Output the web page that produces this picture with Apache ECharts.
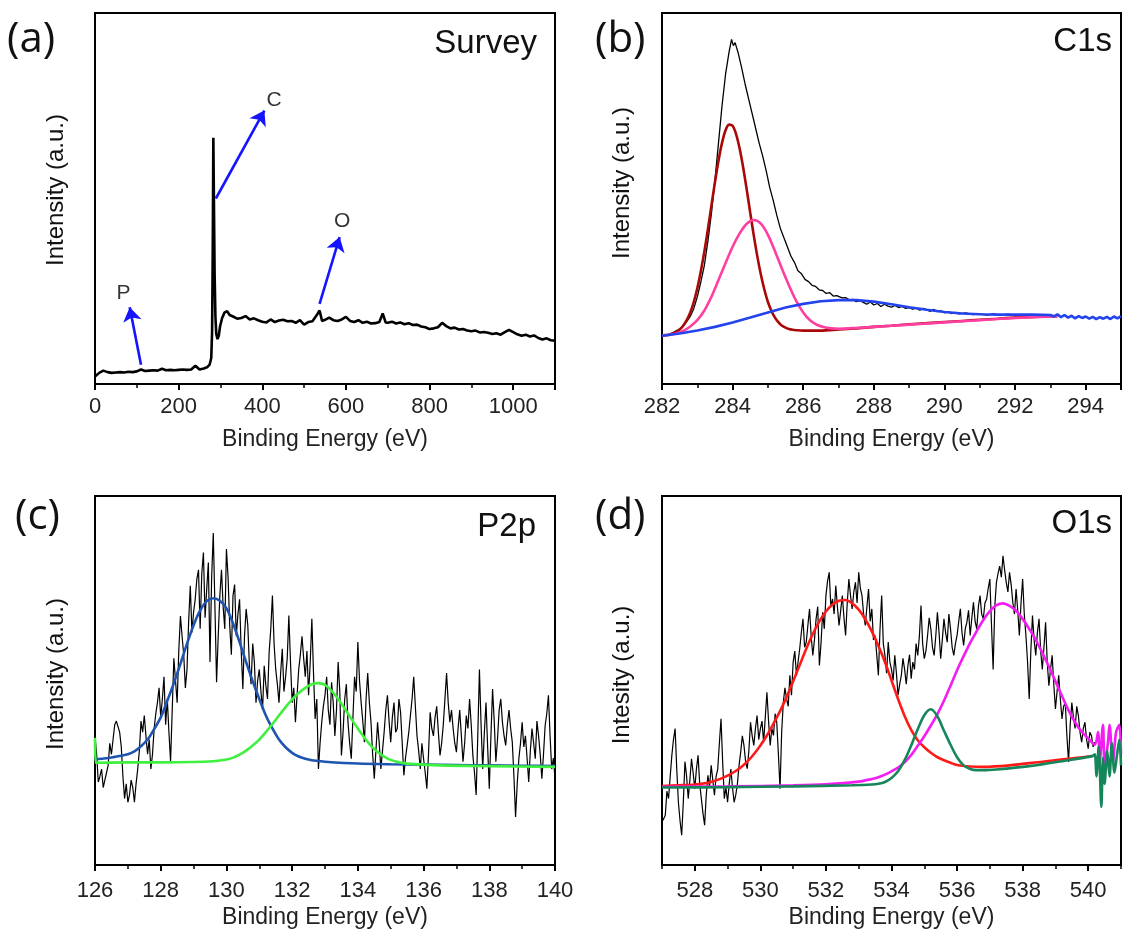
<!DOCTYPE html>
<html><head><meta charset="utf-8">
<script src="https://cdn.jsdelivr.net/npm/echarts@6/dist/echarts.min.js"></script>
<style>html,body{margin:0;padding:0;background:#fff}#c{width:1124px;height:946px}</style>
</head><body><div id="c"></div>
<script>
// ---------- (a) Survey ----------
const surveyData = [
[0,2.0],[10,3.0],[20,3.6],[30,3.2],[40,3.0],[50,3.1],[60,3.2],[70,3.1],[80,3.3],[90,3.2],[100,3.4],[110,3.9],[120,3.5],[130,3.6],[140,3.7],[150,3.6],[160,4.1],[170,3.7],[180,3.8],[190,3.7],[200,3.8],[210,3.9],[220,3.8],[230,3.9],[240,4.9],[250,3.9],[260,4.2],[268,4.5],[274,5.2],[278,7],[280,14],[281.5,35],[283,66.4],[284.5,48],[286,30],[288,18],[290,13.5],[293,12.1],[296,13],[299,15.5],[304,17.8],[310,19.3],[316,19.6],[322,18.6],[330,18.2],[340,17.6],[350,17.8],[360,18.3],[370,17.4],[380,17.7],[390,17.2],[400,16.8],[410,16.6],[420,17.4],[430,16.7],[440,17.1],[450,17.3],[460,16.9],[470,17.0],[480,16.5],[490,17.2],[500,16.0],[510,16.7],[520,16.9],[530,18.5],[537,19.8],[543,17.0],[550,17.3],[560,17.9],[570,17.2],[580,17.0],[590,17.4],[600,18.1],[610,17.0],[620,16.7],[630,17.2],[640,16.5],[650,16.8],[660,16.3],[670,16.4],[680,16.7],[688,19.0],[695,16.6],[700,16.5],[710,16.8],[720,16.3],[730,16.6],[740,16.1],[750,16.4],[760,15.9],[770,16.0],[780,15.5],[790,15.3],[800,14.8],[810,15.0],[820,15.3],[830,16.5],[840,15.6],[850,15.0],[860,15.2],[870,14.7],[880,14.8],[890,14.4],[900,14.2],[910,14.4],[920,13.9],[930,14.0],[940,13.8],[950,13.5],[960,13.7],[970,13.3],[980,14.0],[990,14.6],[1000,14.0],[1010,13.4],[1020,13.0],[1030,13.3],[1040,12.8],[1050,13.1],[1060,12.4],[1070,12.0],[1080,12.3],[1090,11.8],[1100,11.7]
];
const surveyArrows = [
  [[110, 5.2], [83, 20.7]],
  [[289, 50.0], [405, 73.7]],
  [[537, 21.6], [585, 39.6]]
];
const surveyLabels = [
  {name: 'P', value: [68, 24.5]},
  {name: 'C', value: [428, 76.4]},
  {name: 'O', value: [591, 44.0]}
];

// ---------- (b) C1s ----------
const c1sData = [
[282.0,13.0],[282.1,13.1],[282.2,13.4],[282.3,13.8],[282.4,14.3],[282.5,14.8],[282.6,15.6],[282.7,16.8],[282.8,18.2],[282.9,20.3],[283.0,23.5],[283.1,27.5],[283.2,32.0],[283.3,38.5],[283.4,46.0],[283.5,55.0],[283.6,65.0],[283.7,75.0],[283.8,83.5],[283.9,89.5],[283.97,92.9],[284.02,91.2],[284.07,92.0],[284.15,89.5],[284.25,85.5],[284.35,81.0],[284.45,77.0],[284.55,73.0],[284.65,69.0],[284.75,65.0],[284.85,61.5],[284.95,57.5],[285.05,53.0],[285.15,49.5],[285.25,45.5],[285.35,42.0],[285.45,39.5],[285.55,37.0],[285.65,34.5],[285.75,32.8],[285.85,30.5],[285.95,29.7],[286.05,28.2],[286.15,27.6],[286.25,26.6],[286.35,26.3],[286.45,25.4],[286.55,25.2],[286.65,24.4],[286.75,24.6],[286.85,23.7],[286.95,23.8],[287.1,23.2],[287.2,23.3],[287.3,22.7],[287.4,22.8],[287.5,22.2],[287.6,22.5],[287.7,22.0],[287.8,21.5],[287.9,22.1],[288.0,21.3],[288.1,21.7],[288.2,20.9],[288.3,21.5],[288.4,21.0],[288.5,20.7],[288.6,21.2],[288.7,20.6],[288.8,20.9],[288.9,20.4],[289.0,20.6],[289.1,20.2],[289.2,20.5],[289.3,19.9],[289.4,20.4],[289.5,20.0],[289.6,19.6],[289.7,20.1],[289.8,19.5],[289.9,19.7],[290.0,19.2],[290.1,19.5],[290.2,19.0],[290.3,19.3],[290.4,18.9],[290.6,19.2],[290.8,18.7],[291.0,18.9],[291.2,18.6],[291.4,18.9],[291.6,18.5],[291.8,18.8],[292.0,18.4],[292.2,18.7],[292.4,18.3],[292.6,18.6],[292.8,18.2],[293.0,18.4]
];
const c1sRed = [
[282.0,13.1],[282.1,13.2],[282.2,13.3],[282.3,13.6],[282.4,14.0],[282.5,14.7],[282.6,15.7],[282.7,17.2],[282.8,19.3],[282.9,22.1],[283.0,25.8],[283.1,30.4],[283.2,35.7],[283.3,41.7],[283.4,48.1],[283.5,54.4],[283.6,60.2],[283.7,65.0],[283.8,68.4],[283.9,69.9],[284.0,69.6],[284.1,67.3],[284.2,63.4],[284.3,58.3],[284.4,52.4],[284.5,46.1],[284.6,40.0],[284.7,34.4],[284.8,29.5],[284.9,25.4],[285.0,22.1],[285.1,19.7],[285.2,17.9],[285.3,16.6],[285.4,15.7],[285.5,15.2],[285.6,14.8],[285.7,14.6],[285.8,14.5],[286.0,14.4],[286.5,14.4],[287.0,14.7],[287.5,15.0],[288.0,15.4],[288.5,15.7],[289.0,16.1],[289.5,16.4],[290.0,16.7],[290.5,17.0],[291.0,17.3],[291.5,17.6],[292.0,17.9],[292.5,18.1],[293.2,18.3]
];
const c1sPink = [
[282.0,13.0],[282.2,13.2],[282.4,13.6],[282.6,14.3],[282.8,15.5],[283.0,17.2],[283.2,19.8],[283.4,23.5],[283.6,28.0],[283.8,32.6],[284.0,37.0],[284.2,40.6],[284.4,43.2],[284.6,44.2],[284.8,43.2],[285.0,40.2],[285.2,35.8],[285.4,31.0],[285.6,26.5],[285.8,22.4],[286.0,19.3],[286.2,17.1],[286.4,15.9],[286.6,15.3],[286.8,15.0],[287.0,14.9],[287.5,15.1],[288.0,15.4],[289.0,16.0],[290.0,16.6],[291.0,17.2],[292.0,17.8],[293.2,18.3]
];
const c1sBlue = [
[282.0,13.0],[282.5,13.6],[283.0,14.4],[283.5,15.4],[284.0,16.6],[284.5,17.9],[285.0,19.3],[285.5,20.6],[286.0,21.6],[286.5,22.3],[287.0,22.6],[287.5,22.6],[288.0,22.2],[288.5,21.5],[289.0,20.7],[289.5,20.0],[290.0,19.4],[290.5,19.0],[291.0,18.8],[291.5,18.7],[292.0,18.7],[292.5,18.7],[293.0,18.6],[293.1,18.2],[293.2,18.8],[293.3,18.0],[293.4,18.6],[293.5,17.9],[293.6,18.4],[293.7,17.7],[293.8,18.3],[293.9,17.8],[294.0,18.2],[294.1,17.6],[294.2,18.1],[294.3,17.5],[294.4,18.0],[294.5,17.6],[294.6,18.1],[294.7,17.5],[294.8,18.2],[294.9,17.7],[295.0,18.3]
];

// ---------- (c) P2p ----------
const p2pStart = 126.0, p2pStep = 0.05;
const p2pCounts = [
35,30,22.5,24,26,21,23,25,27,33,30,34,38,39,37.5,36,32,24,18,22,
17,19,23,21,17,22,26,31,39,36,40.5,35,30,34,26,30,37,41,44,48,
40,45,51,38,45,36,28,42,56,50,44,58,67.5,62,57,48,53,66,75.7,63,
68.5,72,77.5,80,64,79,84.7,67,74.8,82,55,78,90,70,49.5,62,73,80,70,64,
85.6,78,65,57,73,76,62,68,72,58,47.7,62,69.4,65,54,49,60,55,44,50,
53,47,42,54,48.6,45,57.7,64,73,60,53,49,44,52,58.6,47,51,56,67.6,55,
44,48,38.7,46,53,57,62,56,51,58,46,55,66.7,52,39.6,45,26,33,38.7,43,
46,51,42,38,49.5,44,35,42,55,47,29.7,36,45,49,38.7,33,28.8,40,51,47,
60.4,50,44,39,33.3,45,52,44,38.7,30,23.4,31,38.7,33,26,31,36,42,46,39,
33.3,40,44,36,37,45,41.4,33,24.3,29,32.4,36,40.5,45,51,43,35,31,26,33,
28.8,25,20.7,30,41.4,37,35,40,43,36,29.7,33,38,45,52,44,38.7,42,37,33,
30.6,37,42,35,28,33,40.5,37,45,38,29.7,25,19,35,53,38,26,36,44,32,
20.7,35,47.7,39,28,34,42,45,38.7,35,32.4,38,42,37,33.3,24,13,22,28.8,33,
38.7,32,35,29,22.5,31,37,33,28.8,39,35,30,23.4,30,37.8,41,46,35,26,29,
23.4
];
const p2pBlue = [
[126.0,28.6],[126.2,28.8],[126.4,29.0],[126.6,29.3],[126.8,29.6],[127.0,30.0],[127.2,30.8],[127.4,32.2],[127.6,34.0],[127.8,36.8],[128.0,40.0],[128.2,44.5],[128.4,49.3],[128.6,54.5],[128.8,60.0],[129.0,65.0],[129.2,69.0],[129.4,71.5],[129.6,72.3],[129.8,71.6],[130.0,69.6],[130.2,65.5],[130.4,60.4],[130.6,55.0],[130.8,49.8],[131.0,45.0],[131.2,40.5],[131.4,37.0],[131.6,34.0],[131.8,31.9],[132.0,30.4],[132.2,29.4],[132.4,28.8],[132.6,28.4],[132.8,28.2],[133.0,28.0],[134.0,27.5],[135.0,27.3],[136.0,27.2],[137.0,27.1],[138.0,27.0],[139.0,26.9],[140.0,26.8]
];
const p2pGreen = [
[126.0,34.5],[126.02,27.7],[127.0,27.8],[128.0,27.8],[129.0,27.9],[129.6,28.1],[129.8,28.3],[130.0,28.6],[130.2,29.1],[130.4,29.9],[130.6,31.0],[130.8,32.4],[131.0,34.0],[131.2,36.0],[131.4,38.2],[131.6,40.5],[131.8,42.8],[132.0,44.9],[132.2,46.6],[132.4,48.0],[132.6,49.0],[132.8,49.3],[133.0,48.8],[133.2,47.2],[133.4,45.0],[133.6,42.4],[133.8,39.6],[134.0,37.0],[134.2,34.5],[134.4,32.3],[134.6,30.6],[134.8,29.4],[135.0,28.5],[135.2,28.0],[135.4,27.6],[135.6,27.4],[136.5,27.0],[138.0,26.8],[140.0,26.6]
];

// ---------- (d) O1s ----------
const o1sStart = 527.0, o1sStep = 0.05;
const o1sCounts = [
11.7,12.5,13.5,20,18,24,29.7,34,37,26,17,12,8.1,17,28,24,18,23,28.8,25,
20.7,26,29.7,22,18,14,10.8,19,24.3,21,27,23,18.9,24,26,33,39.6,28,18,21,
17,22,26,21,17,19,22,27,30.6,35,32.4,28,26.1,31,38.7,35,32.4,37,40.5,34,
36.9,39,33.3,40,46.8,39,32.4,37,35.1,41,38.7,30,20.7,36,44.1,48,45,43,51.4,46,
55,58,51.4,55,58.6,63,66.7,59,60.4,65,69.4,62,56.8,61,66.7,70,54.1,60,68.5,64,
73,77,79.3,70,72.1,68,75.7,70,64.9,69,73,67,62.2,71,77.5,73,69.4,74,76.6,71,
79.3,75,73,68,64.9,70,74.8,66,69.4,61,62.2,57,51.4,64,73,60,56.8,52,60.4,55,
53,50,56.8,52,46,49,51.4,56,53,49,54,57,50.5,55,53,60,56.8,62,70.3,60,
55.9,58,62.2,67,64,59,56.8,62,68.5,63,55.9,61,66.7,63,60.4,68,64,59,56.8,60,
62.2,66,69.4,63,59.5,64,65.8,69,62.2,67,71.2,66,64,70,73,68,66.7,71,72,75,
77.5,65,53,70,76.6,79,81,78,83.8,80,76.6,74,79.3,76,71.2,68,74.8,69,62.2,71,
77.5,68,62.2,55,45,58,67.6,61,56.8,63,66.7,58,53,59,65.8,55,48.6,53,56.8,49,
42.3,47,51.4,45,39.6,43,44,35,27.9,38,44,40,37,43,40.5,36,33.3,37,38.7,34,
31.5,36,35,32,33.3
];
const o1sRed = [
[527.0,21.4],[527.5,21.6],[528.0,21.8],[528.4,22.3],[528.6,22.8],[528.8,23.4],[529.0,24.2],[529.2,25.2],[529.4,26.4],[529.6,28.0],[529.8,30.0],[530.0,32.4],[530.2,35.1],[530.4,38.3],[530.6,41.7],[530.8,45.5],[531.0,49.8],[531.2,54.2],[531.4,58.6],[531.6,62.6],[531.8,66.0],[532.0,68.7],[532.2,70.6],[532.4,71.6],[532.6,71.8],[532.8,70.9],[533.0,69.2],[533.2,66.6],[533.4,63.3],[533.6,59.4],[533.8,55.0],[534.0,50.0],[534.2,45.0],[534.4,40.4],[534.6,36.6],[534.8,33.8],[535.0,31.9],[535.2,30.4],[535.4,29.2],[535.6,28.4],[535.8,27.7],[536.0,27.1],[536.4,26.7],[536.8,26.6],[537.6,27.0],[538.6,28.0],[539.6,29.0],[540.12,29.5]
];
const o1sMagenta = [
[527.0,21.2],[529.0,21.3],[531.0,21.6],[532.0,21.9],[533.0,22.6],[533.4,23.3],[533.6,23.8],[533.8,24.5],[534.0,25.4],[534.2,26.4],[534.4,27.8],[534.6,29.8],[534.8,32.3],[535.0,34.9],[535.2,37.8],[535.4,40.9],[535.6,44.5],[535.8,48.6],[536.0,52.8],[536.2,56.6],[536.4,60.2],[536.6,63.4],[536.8,66.4],[537.0,68.8],[537.2,70.4],[537.4,70.9],[537.6,70.2],[537.8,68.9],[538.0,66.7],[538.2,64.0],[538.4,61.0],[538.6,57.5],[538.8,53.8],[539.0,49.8],[539.2,45.8],[539.4,41.9],[539.6,38.7],[539.8,36.1],[540.0,34.3],[540.2,32.6],[540.3,36],[540.35,28],[540.45,38],[540.5,27],[540.6,33],[540.65,38],[540.75,28],[540.85,36],[540.95,38],[541.0,30]
];
const o1sGreen = [
[527.0,21.0],[529.0,21.1],[531.0,21.3],[532.8,21.6],[533.4,21.8],[533.6,22.0],[533.8,22.5],[534.0,23.6],[534.2,25.4],[534.4,28.4],[534.6,32.4],[534.8,36.8],[535.0,40.6],[535.2,42.2],[535.4,40.3],[535.6,36.4],[535.8,32.6],[536.0,29.2],[536.2,27.0],[536.4,26.0],[536.6,25.7],[536.8,25.7],[537.2,25.9],[538.2,26.8],[539.25,28.2],[540.12,29.5],[540.2,30],[540.25,24],[540.32,32],[540.4,15.7],[540.45,29],[540.5,22],[540.58,31],[540.65,24],[540.72,33],[540.8,25],[540.88,30],[540.95,34],[541.0,27]
];
const o1sMajorTicks = [528, 530, 532, 534, 536, 538, 540];
const o1sMinorTicks = [527, 529, 531, 533, 535, 537, 539, 541];

// ---------- build ----------
const toPairs = (start, step, arr) => arr.map((v, i) => [+(start + i * step).toFixed(3), v]);

const FONT = '"Liberation Sans", Arial, sans-serif';
const grids = [
  {left: 95, top: 13, width: 460, height: 371},
  {left: 662, top: 13, width: 459, height: 371},
  {left: 95, top: 496, width: 460, height: 369},
  {left: 662, top: 496, width: 459, height: 369}
].map(g => Object.assign({show: true, borderColor: '#000', borderWidth: 2, backgroundColor: 'transparent', containLabel: false}, g));

function xAx(gi, min, max, interval, nameGap, margin) {
  return {
    type: 'value', gridIndex: gi, min, max, interval,
    axisLine: {show: true, onZero: false, lineStyle: {color: '#000', width: 2}},
    axisTick: {show: true, inside: false, length: 6, lineStyle: {color: '#000', width: 2}},
    minorTick: {show: true, splitNumber: 2, length: 4, lineStyle: {color: '#000', width: 1.5}},
    splitLine: {show: false}, minorSplitLine: {show: false},
    axisLabel: {color: '#222', fontSize: 22, fontFamily: FONT, margin, formatter: v => String(v)},
    name: 'Binding Energy (eV)', nameLocation: 'middle', nameGap,
    nameTextStyle: {color: '#222', fontSize: 23, fontFamily: FONT}
  };
}
const xAxes = [
  xAx(0, 0, 1100, 200, 44, 12),
  xAx(1, 282, 295, 2, 44, 12),
  xAx(2, 126, 140, 2, 41, 15),
  (function () {
    const a = xAx(3, 527, 541, null, 41, 15);
    delete a.interval;
    a.minorTick = {show: false};
    a.axisTick.customValues = o1sMajorTicks;
    a.axisLabel.customValues = o1sMajorTicks;
    return a;
  })(),
  {
    type: 'value', gridIndex: 3, min: 527, max: 541, position: 'bottom',
    axisLine: {show: false}, splitLine: {show: false},
    axisTick: {show: true, length: 4, customValues: o1sMinorTicks, lineStyle: {color: '#000', width: 1.5}},
    axisLabel: {show: false}
  }
];
const yAxes = [0, 1, 2, 3].map(gi => ({
  type: 'value', gridIndex: gi, min: 0, max: 100,
  axisLine: {show: true, lineStyle: {color: '#000', width: 2}},
  axisTick: {show: false}, axisLabel: {show: false}, splitLine: {show: false}
}));

function ln(xi, yi, data, color, width, smooth) {
  return {
    type: 'line', xAxisIndex: xi, yAxisIndex: yi, data, symbol: 'none', showSymbol: false,
    smooth: smooth ? 0.3 : false,
    lineStyle: {color, width}, silent: true, animation: false
  };
}

const series = [
  ln(0, 0, surveyData, '#000', 2.6, false),
  {
    type: 'lines', coordinateSystem: 'cartesian2d', xAxisIndex: 0, yAxisIndex: 0,
    symbol: ['none', 'arrow'], symbolSize: 14,
    lineStyle: {color: '#1414ff', width: 2.6, opacity: 1, curveness: 0},
    data: surveyArrows.map(c => ({coords: c})), silent: true, animation: false
  },
  {
    type: 'scatter', xAxisIndex: 0, yAxisIndex: 0, symbolSize: 0, data: surveyLabels,
    label: {show: true, position: 'inside', formatter: '{b}', fontSize: 21, color: '#000', fontFamily: FONT},
    silent: true, animation: false
  },
  ln(1, 1, c1sData, '#000', 1.3, false),
  ln(1, 1, c1sRed, '#a80808', 2.6, true),
  ln(1, 1, c1sPink, '#ff3ea2', 2.6, true),
  ln(1, 1, c1sBlue, '#2343ee', 2.6, false),
  ln(2, 2, toPairs(p2pStart, p2pStep, p2pCounts), '#000', 1.2, false),
  ln(2, 2, p2pBlue, '#1f55b0', 2.6, true),
  ln(2, 2, p2pGreen, '#3ff03f', 2.6, true),
  ln(3, 3, toPairs(o1sStart, o1sStep, o1sCounts), '#000', 1.2, false),
  ln(3, 3, o1sRed, '#ff1a1a', 2.6, true),
  ln(3, 3, o1sMagenta, '#f41cf4', 2.6, true),
  ln(3, 3, o1sGreen, '#15855a', 2.6, true)
];

function txt(x, y, text, font, align, rot) {
  return {type: 'text', x, y, rotation: rot || 0, silent: true,
    style: {text, font, fill: '#111', align: align || 'left', verticalAlign: 'middle'}};
}
const PANEL_FONT = '42px "Open Sans", "Liberation Sans", sans-serif';
const TAG_FONT = '33px "Liberation Sans", Arial, sans-serif';
const YT_FONT = '24px "Liberation Sans", Arial, sans-serif';
const graphic = [
  txt(7, 40, '(a)', PANEL_FONT), txt(595, 40, '(b)', PANEL_FONT),
  txt(15, 517, '(c)', PANEL_FONT), txt(595, 517, '(d)', PANEL_FONT),
  txt(537, 44, 'Survey', TAG_FONT, 'right'), txt(1112, 42, 'C1s', TAG_FONT, 'right'),
  txt(536, 527, 'P2p', TAG_FONT, 'right'), txt(1112, 524, 'O1s', TAG_FONT, 'right'),
  txt(56, 190, 'Intensity (a.u.)', YT_FONT, 'center', Math.PI / 2),
  txt(622, 183, 'Intensity (a.u.)', YT_FONT, 'center', Math.PI / 2),
  txt(56, 674, 'Intensity (a.u.)', YT_FONT, 'center', Math.PI / 2),
  txt(622, 675, 'Intesity (a.u.)', YT_FONT, 'center', Math.PI / 2)
];

const chart = echarts.init(document.getElementById('c'), null, {renderer: 'canvas'});
chart.setOption({
  animation: false, backgroundColor: '#fff',
  grid: grids, xAxis: xAxes, yAxis: yAxes, series, graphic
});
</script></body></html>
